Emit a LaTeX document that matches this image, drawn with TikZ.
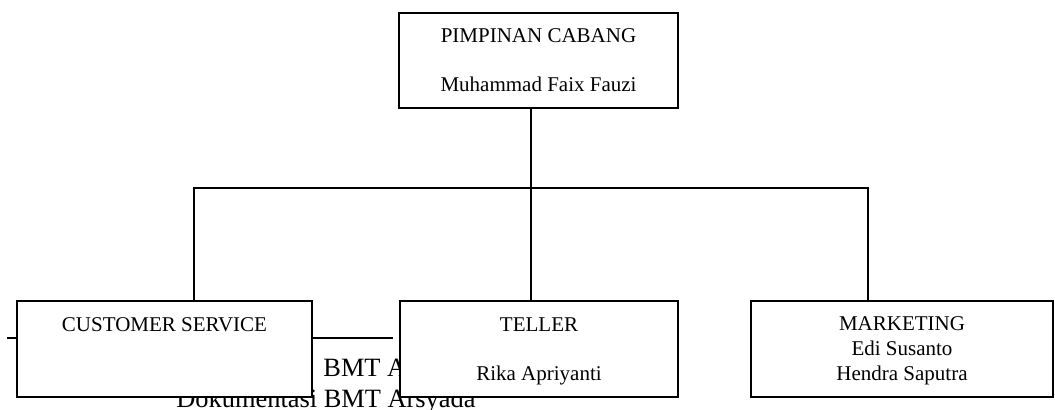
\documentclass[tikz,border=0pt]{standalone}
\usepackage{fontspec}
\setmainfont{Liberation Serif}

\begin{document}
\begin{tikzpicture}[x=0.5pt, y=-0.5pt,
		jabatan/.style={draw, fill=white, line width=0.9pt, align=center, inner sep=0pt, text depth=0pt, font=\fontsize{10.5pt}{12.5pt}\selectfont},
		garis/.style={line width=0.8pt},
		latar/.style={anchor=base west, inner sep=0pt, font=\fontsize{13.2pt}{15.5pt}\selectfont}]
	\useasboundingbox	(0, 0) rectangle (1055, 410);

	\node[latar]	(sumber1) at (323, 377) {BMT A};
	\node[latar]	(sumber2) at (176, 408) {Dokumentasi BMT Arsyada};

	\coordinate	(sisa1) at (7, 338);
	\coordinate	(sisa2) at (393, 338);
	\draw[garis]	(sisa1) -- (sisa2);

	\node[jabatan, minimum width=139.5pt, minimum height=47.5pt]	(pimpinan) at (538.5, 60.5) {PIMPINAN CABANG\\[12pt] Muhammad Faix Fauzi};
	\node[jabatan, minimum width=147.5pt, minimum height=48pt]	(cs) at (164.5, 349) {CUSTOMER SERVICE\\[12pt] \mbox{}};
	\node[jabatan, minimum width=139pt, minimum height=48pt]	(teller) at (539, 349) {TELLER\\[12pt] Rika Apriyanti};
	\node[jabatan, minimum width=151pt, minimum height=48pt]	(marketing) at (902, 349) {MARKETING\\ Edi Susanto\\ Hendra Saputra};

	\coordinate	(cabang) at (531, 188);
	\coordinate	(kiri) at (194, 188);
	\coordinate	(kanan) at (868, 188);

	\draw[garis]	(pimpinan.south -| cabang) -- (teller.north -| cabang);
	\draw[garis]	(cs.north -| kiri) -- (kiri) -- (kanan) -- (marketing.north -| kanan);
\end{tikzpicture}
\end{document}
